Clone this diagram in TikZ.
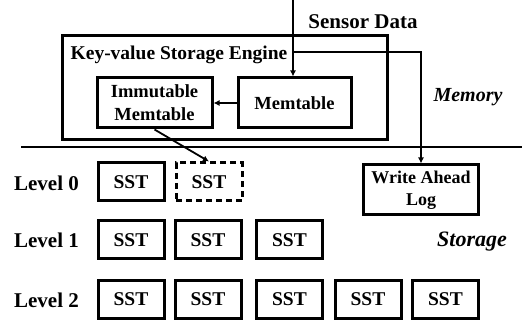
\documentclass[tikz,border=0pt]{standalone}
\usepackage{fontspec}
\setmainfont{Liberation Serif}
\usetikzlibrary{arrows.meta}
\begin{document}
\begin{tikzpicture}[x=1pt,y=-1pt,
  box/.style={draw,line width=3pt,inner sep=0pt,align=center,font=\fontsize{18.5}{23}\selectfont\bfseries},
  sst/.style={box,minimum width=66pt,minimum height=38pt,font=\fontsize{19.5}{20}\selectfont\bfseries},
  dsst/.style={sst,dashed,dash pattern=on 6pt off 4pt},
  lvl/.style={font=\fontsize{21}{22}\selectfont\bfseries,inner sep=0pt},
  lbl/.style={font=\fontsize{19.5}{20}\selectfont\bfseries,inner sep=0pt},
  ilbl/.style={font=\fontsize{20}{21}\selectfont\bfseries\itshape,inner sep=0pt},
  arr/.style={line width=1.8pt,-{Latex[length=6pt,width=6pt]}},
  ln/.style={line width=1.8pt}]
\useasboundingbox (0,0) rectangle (522,320);
% engine
\node[box,minimum width=325pt,minimum height=104pt] (eng) at (224.5,88) {};
\node[lbl] (engl) at (179,55) {Key-value Storage Engine};
\node[box,minimum width=113pt,minimum height=50pt] (mem) at (294.5,103) {Memtable};
\node[box,minimum width=115pt,minimum height=50pt] (imm) at (154.5,103) {Immutable\\Memtable};
\node[lbl,font=\fontsize{21}{22}\selectfont\bfseries] (sd) at (363,22) {Sensor Data};
\node[ilbl] (memory) at (468,97) {Memory};
\node[ilbl,font=\fontsize{22}{23}\selectfont\bfseries\itshape] (storage) at (472,242) {Storage};
% separator
\coordinate (sepL) at (21,147);
\coordinate (sepR) at (522,147);
\draw[ln] (sepL) -- (sepR);
% WAL
\node[box,minimum width=115pt,minimum height=50pt,font=\fontsize{18}{22}\selectfont\bfseries] (wal) at (421,190) {Write Ahead\\Log};
% levels
\node[lvl] (lv0) at (46.5,183) {Level 0};
\node[lvl] (lv1) at (46.5,240) {Level 1};
\node[lvl] (lv2) at (46.5,300) {Level 2};
\node[sst] (l0a) at (131,182) {SST};
\node[dsst] (l0b) at (209,182) {SST};
\node[sst] (l1a) at (131,240) {SST};
\node[sst] (l1b) at (208,240) {SST};
\node[sst] (l1c) at (289.5,240) {SST};
\node[sst] (l2a) at (131,299.5) {SST};
\node[sst] (l2b) at (208,299.5) {SST};
\node[sst] (l2c) at (289.5,299.5) {SST};
\node[sst] (l2d) at (368,299.5) {SST};
\node[sst] (l2e) at (445.5,299.5) {SST};
% connectors
\coordinate (sin) at (293,0);
\coordinate (br) at (293,52);
\draw[arr] (sin) -- (sin |- mem.north);
\draw[arr] (br) -| (wal.north);
\draw[arr] (mem.west) -- (imm.east);
\draw[arr] (imm.south) -- (l0b.north);
\end{tikzpicture}
\end{document}
